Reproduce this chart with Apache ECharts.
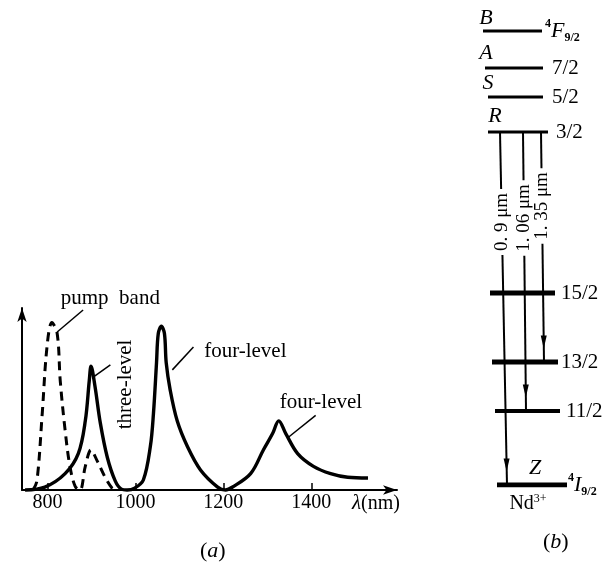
<!DOCTYPE html>
<html>
<head>
<meta charset="utf-8">
<script src="https://cdn.jsdelivr.net/npm/echarts@6/dist/echarts.min.js"></script>
<style>
html, body { margin: 0; padding: 0; background: #fff; }
#main { width: 610px; height: 566px; }
</style>
</head>
<body>
<div id="main"></div>
<script>
// (a) pump band and emission lines, wavelength (nm) vs relative intensity
var pumpBand = [[767, 0], [776, 5], [788, 42], [799, 79], [810, 92], [822, 86], [829, 60], [840, 33], [851, 13],
    [863, 2], [874, 0], [886, 13], [899, 22], [913, 16], [931, 7], [947, 1], [955, 0]];
var emission = [[749, 0], [794, 1.6], [840, 9], [870, 20], [886, 38], [895, 60], [899, 68], [908, 57], [920, 37],
    [936, 18], [954, 5], [968, 0.5], [981, 0], [998, 1], [1018, 5.5], [1034, 24], [1041, 42], [1048, 70],
    [1052, 86], [1059, 90], [1066, 86], [1070, 70], [1079, 55], [1095, 38], [1118, 24], [1148, 11],
    [1187, 1.6], [1205, 0], [1220, 1.5], [1262, 9], [1291, 22], [1312, 31], [1326, 38], [1342, 31],
    [1369, 20], [1405, 13], [1444, 9], [1483, 7], [1529, 6.6]];
var xTicks = [800, 1000, 1200, 1400];

// (b) Nd3+ energy levels (relative energy) and laser transitions
var levelLetters = ['B', 'A', 'S', 'R', '', '', '', 'Z'];
var levelTerms = ['4F9/2', '7/2', '5/2', '3/2', '15/2', '13/2', '11/2', '4I9/2'];
var levelEnergy = [454, 417, 388, 353, 192, 123, 74, 0];
var transitions = [['3/2', '4I9/2', '0. 9 μm'], ['3/2', '11/2', '1. 06 μm'], ['3/2', '13/2', '1. 35 μm']];

var FONT = 'Liberation Serif';

// layout of the level diagram (x in px of grid b)
var levelSpan = [[13, 72], [15, 73], [18, 73], [18, 78], [20, 85], [22, 88], [25, 90], [27, 97]];
var levelWidth = [2.8, 2.8, 2.8, 3.2, 5, 4.8, 4.2, 4.8];
var termGap = [3, 9, 9, 8, 6, 3, 6, 1];
var letterX = [16, 16, 18, 25, 0, 0, 0, 65];
var letterGap = [1, 3, 2, 4, 0, 0, 0, 5];
var transX = [[30, 37], [53, 56], [71, 74]];
var transLabelE = [263, 267, 279];

var rich = {
    n: { fontFamily: FONT, fontSize: 21, color: '#000', lineHeight: 26 },
    it: { fontFamily: FONT, fontSize: 22, fontStyle: 'italic', color: '#000', lineHeight: 26 },
    sup: { fontFamily: FONT, fontSize: 12, fontWeight: 'bold', color: '#000', verticalAlign: 'top', lineHeight: 26 },
    sub: { fontFamily: FONT, fontSize: 12, fontWeight: 'bold', color: '#000', verticalAlign: 'bottom', lineHeight: 26 }
};

function termText(t) {
    if (t.charAt(0) === '4') {
        return '{sup|4}{it|' + t.charAt(1) + '}{sub|' + t.slice(2) + '}';
    }
    return '{n|' + t + '}';
}

function energyOf(term) {
    return levelEnergy[levelTerms.indexOf(term)];
}

var hidden = { color: 'rgba(0,0,0,0)', opacity: 1 };
var series = [];

// panel (a)
series.push({
    type: 'line',
    data: pumpBand,
    smooth: 0.35,
    symbol: 'none',
    lineStyle: { color: '#000', width: 3, type: [9, 6] },
    z: 3
});
series.push({
    type: 'line',
    data: emission,
    smooth: 0.35,
    symbol: 'none',
    clip: false,
    lineStyle: { color: '#000', width: 3.4 },
    z: 4,
    markLine: {
        silent: true,
        symbol: ['none', 'none'],
        label: { show: false },
        lineStyle: { color: '#000', width: 1.5, type: 'solid' },
        data: [
            [{ coord: [881, 98.9] }, { coord: [822, 86.8] }],
            [{ coord: [904, 62] }, { coord: [943, 68.7] }],
            [{ coord: [1084, 66] }, { coord: [1132, 78.6] }],
            [{ coord: [1348, 29] }, { coord: [1410, 41] }]
        ]
    },
    markPoint: {
        silent: true,
        symbol: 'rect',
        symbolSize: 0,
        label: {
            show: true, position: 'inside', color: '#000',
            fontFamily: FONT, fontSize: 21, formatter: '{b}'
        },
        data: [
            { name: 'pump  band', coord: [943, 99], label: { offset: [0, -11] } },
            { name: 'three-level', coord: [977, 58], label: { rotate: 90 } },
            { name: 'four-level', coord: [1250, 76] },
            { name: 'four-level', coord: [1422, 48] }
        ]
    }
});

// panel (b) levels
levelTerms.forEach(function (t, i) {
    series.push({
        type: 'line',
        xAxisIndex: 1,
        yAxisIndex: 1,
        data: [[levelSpan[i][0], levelEnergy[i]], [levelSpan[i][1], levelEnergy[i]]],
        symbol: 'none',
        lineStyle: { color: '#000', width: levelWidth[i] },
        endLabel: { show: true, formatter: termText(t), distance: termGap[i], rich: rich },
        z: 3
    });
});

// level letters
series.push({
    type: 'scatter',
    xAxisIndex: 1,
    yAxisIndex: 1,
    symbolSize: 1,
    itemStyle: hidden,
    data: levelLetters.map(function (l, i) {
        return l ? { value: [letterX[i], levelEnergy[i]], name: l, label: { distance: letterGap[i] } } : null;
    }).filter(Boolean).concat([
        { value: [58, 0], name: 'Nd{s|3+}', label: { position: 'bottom', distance: 7, fontStyle: 'normal', fontSize: 20 } }
    ]),
    label: {
        show: true, position: 'top', formatter: '{b}', color: '#000',
        fontFamily: FONT, fontSize: 22, fontStyle: 'italic',
        rich: { s: { fontFamily: FONT, fontSize: 12, color: '#000', verticalAlign: 'top', lineHeight: 22 } }
    }
});

// transitions
transitions.forEach(function (tr, i) {
    var eTop = energyOf(tr[0]);
    var eBot = energyOf(tr[1]);
    var xAt = function (e) {
        return transX[i][0] + (transX[i][1] - transX[i][0]) * (eTop - e) / (eTop - eBot);
    };
    series.push({
        type: 'line',
        xAxisIndex: 1,
        yAxisIndex: 1,
        data: [[transX[i][0], eTop], [transX[i][1], eBot]],
        symbol: 'none',
        lineStyle: { color: '#000', width: 2 },
        z: 2
    });
    series.push({
        type: 'scatter',
        xAxisIndex: 1,
        yAxisIndex: 1,
        symbol: 'triangle',
        symbolRotate: 180,
        symbolSize: [6, 13],
        itemStyle: { color: '#000', opacity: 1 },
        data: [[xAt(eBot + 20), eBot + 20]],
        z: 5
    });
    series.push({
        type: 'scatter',
        xAxisIndex: 1,
        yAxisIndex: 1,
        symbolSize: 1,
        itemStyle: hidden,
        data: [{ value: [xAt(transLabelE[i]), transLabelE[i]], name: tr[2] }],
        label: {
            show: true, position: 'inside', rotate: 90, formatter: '{b}',
            color: '#000', fontFamily: FONT, fontSize: 19,
            backgroundColor: '#fff', padding: [0, 4]
        },
        z: 6
    });
});

var myChart = echarts.init(document.getElementById('main'));

var option = {
    animation: false,
    backgroundColor: '#fff',
    grid: [
        { left: 22, top: 308, width: 375, height: 182 },
        { left: 470, top: 15, width: 140, height: 470 }
    ],
    xAxis: [{
        type: 'value',
        min: 742,
        max: 1595,
        name: '{i|λ}{n|(nm)}',
        nameLocation: 'end',
        nameGap: 3,
        nameTextStyle: {
            align: 'right', verticalAlign: 'top', padding: [3, 0, 0, 0],
            rich: {
                i: { fontFamily: FONT, fontSize: 21, fontStyle: 'italic', color: '#000' },
                n: { fontFamily: FONT, fontSize: 20, color: '#000' }
            }
        },
        axisLine: { symbol: ['none', 'arrow'], symbolSize: [7, 14], lineStyle: { color: '#000', width: 2 } },
        axisTick: { show: true, inside: true, length: 7, customValues: xTicks, lineStyle: { color: '#000', width: 1.5 } },
        axisLabel: {
            customValues: xTicks, color: '#000', fontFamily: FONT, fontSize: 20, margin: 3,
            formatter: function (v) { return String(v); }
        },
        splitLine: { show: false }
    }, {
        type: 'value', gridIndex: 1, min: 0, max: 140, show: false
    }],
    yAxis: [{
        type: 'value',
        min: 0,
        max: 100,
        axisLine: { show: true, symbol: ['none', 'arrow'], symbolSize: [7, 14], lineStyle: { color: '#000', width: 2 } },
        axisTick: { show: false },
        axisLabel: { show: false },
        splitLine: { show: false }
    }, {
        type: 'value', gridIndex: 1, min: 0, max: 470, show: false
    }],
    graphic: [{
        type: 'text', left: 200, top: 540,
        style: {
            text: '{n|(}{i|a}{n|)}',
            rich: {
                n: { fontFamily: FONT, fontSize: 22, fill: '#000' },
                i: { fontFamily: FONT, fontSize: 22, fontStyle: 'italic', fill: '#000' }
            }
        }
    }, {
        type: 'text', left: 543, top: 531,
        style: {
            text: '{n|(}{i|b}{n|)}',
            rich: {
                n: { fontFamily: FONT, fontSize: 22, fill: '#000' },
                i: { fontFamily: FONT, fontSize: 22, fontStyle: 'italic', fill: '#000' }
            }
        }
    }],
    series: series
};

myChart.setOption(option);
window.addEventListener('resize', function () {
    myChart.resize();
});
</script>
</body>
</html>
